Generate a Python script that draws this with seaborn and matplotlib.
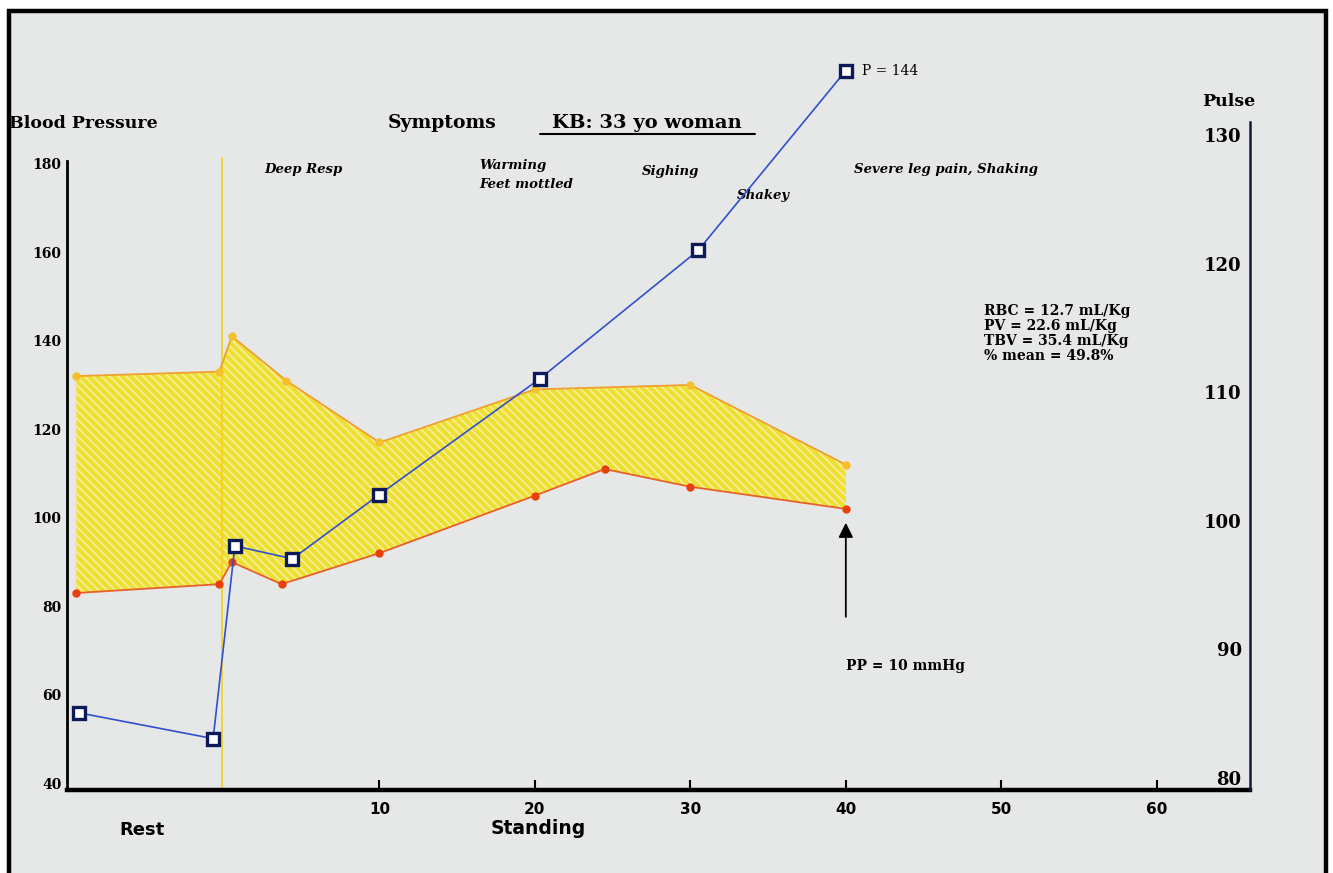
import numpy as np
import matplotlib
matplotlib.use("Agg")
import matplotlib.pyplot as plt
import matplotlib.transforms as mtransforms
from matplotlib.patches import Rectangle
from matplotlib.lines import Line2D
import seaborn as sns

# ---- data -------------------------------------------------------------
# minutes (negative = supine rest, 0 = start of standing)
sys_time = [-9.5, -0.3, 0.5, 4.0, 10.0, 20.0, 30.0, 40.0]
systolic = [132, 133, 141, 131, 117, 129, 130, 112]

dia_time = [-9.5, -0.3, 0.5, 3.7, 10.0, 20.0, 24.5, 30.0, 40.0]
diastolic = [83, 85, 90, 85, 92, 105, 111, 107, 102]

pulse_time = [-9.3, -0.7, 0.7, 4.4, 10.0, 20.3, 30.5, 40.0]
pulse = [86, 84, 99, 98, 103, 112, 122, 144]

bp_ticks = [40, 60, 80, 100, 120, 140, 160, 180]
pulse_ticks = [80, 90, 100, 110, 120, 130]
time_ticks = [10, 20, 30, 40, 50, 60]

symptoms = [
    ("Deep Resp", 2.6, 170),
    ("Warming", 16.4, 165),
    ("Feet mottled", 16.4, 185),
    ("Sighing", 26.9, 172),
    ("Shakey", 33.0, 195),
    ("Severe leg pain, Shaking", 40.5, 170),
]
volumes = ["RBC = 12.7 mL/Kg", "PV = 22.6 mL/Kg",
           "TBV = 35.4 mL/Kg", "% mean = 49.8%"]
pulse_pressure = systolic[-1] - diastolic[-1]

# values above the pulse scale are pinned just above its top
PULSE_OFFSCALE = 136

# ---- figure -----------------------------------------------------------
W, H = 1333, 873
sns.set_theme(style="white")
plt.rcParams["font.family"] = ["DejaVu Serif", "DejaVu Sans"]
plt.rcParams["hatch.linewidth"] = 1.1
for key in ("text.color", "axes.labelcolor", "xtick.color", "ytick.color"):
    plt.rcParams[key] = "black"

fig = plt.figure(figsize=(W / 100, H / 100), dpi=100)
fig.patch.set_facecolor("white")


def fx(px):
    return px / W


def fy(py):
    return 1 - py / H


# slide background and frame
fig.patches.append(Rectangle((fx(9), fy(880)), fx(1326) - fx(9), fy(11) - fy(880),
                             transform=fig.transFigure, facecolor="#e5e8e7",
                             edgecolor="none", zorder=-10))
fig.patches.append(Rectangle((fx(9), fy(880)), fx(1326) - fx(9), fy(11) - fy(880),
                             transform=fig.transFigure, facecolor="none",
                             edgecolor="black", lw=3.2, zorder=50))

ax = fig.add_axes([fx(67), fy(790), fx(1250) - fx(67), fy(122) - fy(790)])
ax.set_facecolor("none")
ax.set_xlim(-10.1, 66.0)
ax.set_ylim(38.5, 189.4)

# blood pressure band
poly_x = np.concatenate([sys_time, dia_time[::-1]])
poly_y = np.concatenate([systolic, diastolic[::-1]])
ax.fill(poly_x, poly_y, facecolor="#eee032", edgecolor="#f6f0a8",
        hatch="\\\\\\\\", lw=0, zorder=1)

sns.lineplot(x=sys_time, y=systolic, ax=ax, color="#f0a030", lw=1.3,
             marker="o", markersize=6, markerfacecolor="#f5c02e",
             markeredgewidth=0, zorder=3)
sns.lineplot(x=dia_time, y=diastolic, ax=ax, color="#e8602a", lw=1.3,
             marker="o", markersize=6, markerfacecolor="#e8400c",
             markeredgewidth=0, zorder=3)

# start of standing
ax.axvline(-0.1, ymin=0, ymax=(790 - 158) / (790 - 122), color="#f2d21a",
           lw=1.2, zorder=2)

# spines and ticks of the pressure / time axes
for side in ("top", "right"):
    ax.spines[side].set_visible(False)
ax.spines["bottom"].set_color("black")
ax.spines["bottom"].set_linewidth(3.2)
ax.spines["left"].set_color("black")
ax.spines["left"].set_linewidth(2.0)
ax.spines["left"].set_bounds(38.5, 180.5)

ax.set_yticks(bp_ticks)
ax.set_yticklabels([str(v) for v in bp_ticks], fontsize=10,
                   fontweight="bold", family="DejaVu Serif")
ax.tick_params(axis="y", length=0, pad=4)
ax.set_xticks(time_ticks)
ax.set_xticklabels([str(v) for v in time_ticks], fontsize=11,
                   fontweight="bold", family="DejaVu Sans")
ax.tick_params(axis="x", direction="in", length=7, width=1.5, color="black",
               pad=9, bottom=True)
ax.grid(False)

# pulse on the right-hand axis
ax2 = ax.twinx()
ax2.set_ylim(80, 132.0)
pulse_shown = np.minimum(pulse, PULSE_OFFSCALE)
sns.lineplot(x=pulse_time, y=pulse_shown, ax=ax2, color="#3050cc", lw=1.2,
             marker="s", markersize=9, markerfacecolor="white",
             markeredgecolor="#0c1a5a", markeredgewidth=2.4, clip_on=False,
             zorder=5)
for side in ("top", "left", "bottom"):
    ax2.spines[side].set_visible(False)
ax2.spines["right"].set_color("#101a40")
ax2.spines["right"].set_linewidth(1.8)
ax2.set_yticks(pulse_ticks)
ax2.set_yticklabels([str(v) for v in pulse_ticks], fontsize=13,
                    fontweight="bold", family="DejaVu Serif")
ax2.tick_params(axis="y", length=0, pad=-6)
shift = mtransforms.ScaledTranslation(0, 9 / 72, fig.dpi_scale_trans)
for lbl in ax2.get_yticklabels():
    lbl.set_horizontalalignment("right")
    lbl.set_transform(lbl.get_transform() + shift)
ax2.grid(False)
ax2.set_ylabel("")

ax2.annotate(f"P = {pulse[-1]}", xy=(pulse_time[-1], pulse_shown[-1]),
             xytext=(12, 0), textcoords="offset points", va="center",
             ha="left", fontsize=10, annotation_clip=False)

# pulse pressure arrow
ax.annotate("", xy=(dia_time[-1], diastolic[-1] - 2.5),
            xytext=(dia_time[-1], 77),
            arrowprops=dict(arrowstyle="-|>", color="black", lw=1.3,
                            mutation_scale=22))
ax.text(dia_time[-1], 66.5, f"PP = {pulse_pressure} mmHg", ha="left",
        va="center", fontsize=10, fontweight="bold")

# headings
fig.text(fx(158), fy(123), "Blood Pressure", ha="right", va="center",
         fontsize=12.5, fontweight="bold")
fig.text(fx(442), fy(123), "Symptoms", ha="center", va="center",
         fontsize=13.5, fontweight="bold")
fig.text(fx(647), fy(123), "KB: 33 yo woman", ha="center", va="center",
         fontsize=14, fontweight="bold")
fig.add_artist(Line2D([fx(540), fx(755)], [fy(134), fy(134)],
                      transform=fig.transFigure, color="black", lw=1.5))
fig.text(fx(1229), fy(102), "Pulse", ha="center", va="center",
         fontsize=12.5, fontweight="bold")

# symptom notes along the time axis
sym_tr = mtransforms.blended_transform_factory(ax.transData, fig.transFigure)
for label, t, py in symptoms:
    ax.text(t, fy(py), label, transform=sym_tr, ha="left", va="center",
            fontsize=9.5, fontstyle="italic", fontweight="bold")

for i, line in enumerate(volumes):
    fig.text(fx(984), fy(311 + 15 * i), line, ha="left", va="center",
             fontsize=10, fontweight="bold")

fig.text(fx(142), fy(830), "Rest", ha="center", va="center", fontsize=13,
         fontweight="bold", family="DejaVu Sans")
fig.text(fx(538), fy(828), "Standing", ha="center", va="center",
         fontsize=13.5, fontweight="bold", family="DejaVu Sans")

fig.savefig("out.png", dpi=100, facecolor=fig.get_facecolor())
